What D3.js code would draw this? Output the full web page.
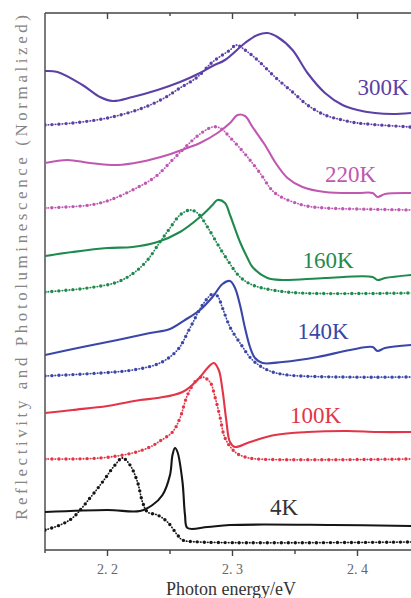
<!DOCTYPE html>
<html><head><meta charset="utf-8">
<script src="https://cdn.jsdelivr.net/npm/d3@7"></script>
<style>html,body{margin:0;padding:0;background:#fff;}svg{display:block;}</style>
</head><body>
<svg id="c" width="411" height="598"></svg>
<script>
// Photon energy (eV) vs normalized intensity (offset per temperature)
const temps = ["300K","220K","160K","140K","100K","4K"];
const colors = ["#5d40a6","#c058b2","#1f8a4e","#3a46a8","#e23648","#151515"];

const refl300 = [[2.150,4.79],[2.160,4.78],[2.180,4.65],[2.194,4.53],[2.204,4.49],[2.220,4.53],[2.240,4.60],[2.258,4.68],[2.274,4.77],[2.284,4.84],[2.294,4.90],[2.310,5.07],[2.320,5.15],[2.328,5.17],[2.336,5.13],[2.348,5.00],[2.360,4.77],[2.374,4.57],[2.388,4.45],[2.400,4.40],[2.414,4.37],[2.428,4.36],[2.443,4.37]];
const pl300 = [[2.150,4.25],[2.172,4.27],[2.200,4.32],[2.226,4.41],[2.244,4.51],[2.258,4.62],[2.272,4.73],[2.284,4.88],[2.298,5.00],[2.303,5.05],[2.310,5.00],[2.320,4.90],[2.334,4.73],[2.348,4.58],[2.360,4.45],[2.374,4.35],[2.388,4.30],[2.400,4.27],[2.443,4.23]];

const refl220 = [[2.150,3.87],[2.168,3.90],[2.186,3.87],[2.208,3.85],[2.226,3.88],[2.248,3.95],[2.266,4.03],[2.274,4.07],[2.288,4.17],[2.298,4.27],[2.304,4.35],[2.310,4.34],[2.316,4.23],[2.326,4.05],[2.334,3.88],[2.344,3.72],[2.356,3.63],[2.374,3.58],[2.400,3.57],[2.412,3.57],[2.416,3.53],[2.422,3.56],[2.443,3.57]];
const pl220 = [[2.150,3.42],[2.186,3.45],[2.202,3.50],[2.220,3.60],[2.238,3.73],[2.252,3.90],[2.264,4.05],[2.274,4.16],[2.284,4.23],[2.290,4.22],[2.300,4.10],[2.312,3.93],[2.322,3.77],[2.334,3.57],[2.356,3.45],[2.374,3.42],[2.400,3.41],[2.443,3.40]];

const refl160 = [[2.150,2.94],[2.172,2.98],[2.200,3.02],[2.220,3.03],[2.240,3.08],[2.258,3.18],[2.274,3.33],[2.284,3.45],[2.288,3.50],[2.294,3.47],[2.298,3.35],[2.306,3.08],[2.312,2.92],[2.316,2.83],[2.328,2.72],[2.340,2.70],[2.374,2.72],[2.412,2.73],[2.416,2.70],[2.422,2.72],[2.443,2.75]];
const pl160 = [[2.150,2.58],[2.184,2.62],[2.208,2.68],[2.222,2.78],[2.232,2.90],[2.242,3.08],[2.250,3.22],[2.258,3.35],[2.266,3.40],[2.272,3.37],[2.280,3.23],[2.288,3.06],[2.296,2.90],[2.306,2.73],[2.316,2.65],[2.332,2.60],[2.354,2.57],[2.443,2.57]];

const refl140 = [[2.150,1.95],[2.180,2.03],[2.208,2.10],[2.234,2.17],[2.250,2.21],[2.262,2.30],[2.274,2.40],[2.284,2.53],[2.292,2.66],[2.298,2.69],[2.302,2.62],[2.306,2.45],[2.310,2.22],[2.314,2.03],[2.318,1.92],[2.324,1.87],[2.340,1.88],[2.368,1.93],[2.394,2.00],[2.412,2.03],[2.416,1.99],[2.422,2.02],[2.443,2.05]];
const pl140 = [[2.150,1.74],[2.194,1.77],[2.220,1.80],[2.242,1.87],[2.256,2.00],[2.266,2.22],[2.276,2.45],[2.284,2.56],[2.288,2.54],[2.292,2.42],[2.298,2.23],[2.306,2.07],[2.316,1.90],[2.328,1.80],[2.344,1.75],[2.443,1.73]];

const refl100 = [[2.150,1.37],[2.172,1.40],[2.200,1.44],[2.226,1.50],[2.240,1.52],[2.260,1.58],[2.272,1.70],[2.280,1.82],[2.285,1.87],[2.289,1.80],[2.292,1.60],[2.295,1.30],[2.298,1.08],[2.302,1.03],[2.314,1.08],[2.334,1.15],[2.360,1.18],[2.392,1.19],[2.416,1.18],[2.443,1.18]];
const pl100 = [[2.150,0.91],[2.194,0.92],[2.220,0.97],[2.234,1.03],[2.242,1.09],[2.252,1.18],[2.258,1.32],[2.264,1.55],[2.272,1.71],[2.276,1.73],[2.282,1.68],[2.286,1.53],[2.290,1.33],[2.294,1.12],[2.302,0.98],[2.310,0.93],[2.320,0.91],[2.443,0.91]];

const refl4 = [[2.150,0.38],[2.200,0.40],[2.226,0.39],[2.236,0.45],[2.244,0.55],[2.250,0.75],[2.252,0.95],[2.254,1.02],[2.256,0.98],[2.260,0.68],[2.262,0.35],[2.264,0.22],[2.280,0.23],[2.298,0.25],[2.380,0.25],[2.443,0.24]];
const pl4 = [[2.150,0.20],[2.162,0.25],[2.172,0.32],[2.186,0.52],[2.196,0.68],[2.206,0.85],[2.212,0.92],[2.218,0.85],[2.224,0.68],[2.228,0.48],[2.232,0.38],[2.240,0.35],[2.248,0.28],[2.256,0.15],[2.260,0.10],[2.274,0.08],[2.443,0.08]];

const reflSeries = [refl300, refl220, refl160, refl140, refl100, refl4];
const plSeries = [pl300, pl220, pl160, pl140, pl100, pl4];
const labelPos = [[2.4,4.55],[2.374,3.68],[2.356,2.82],[2.352,2.11],[2.346,1.27],[2.330,0.35]];

const xTickMajor = [2.2, 2.3, 2.4];
const xTickMinor = [2.25, 2.35];
const xTickLabels = ["2. 2", "2. 3", "2. 4"];

const svg = d3.select("#c");
const L = 45, T = 13, B = 550, R = 411;
const x = d3.scaleLinear().domain([2.15, 2.4428]).range([L, R]);
const y = d3.scaleLinear().domain([0, 5.37]).range([B, T]);

const line = d3.line().x(d => x(d[0])).y(d => y(d[1])).curve(d3.curveCatmullRom.alpha(0.5));

// axes
const axCol = "#444";
svg.append("line").attr("x1", L).attr("x2", R).attr("y1", T).attr("y2", T).attr("stroke", axCol).attr("stroke-width", 1.4);
svg.append("line").attr("x1", L).attr("x2", R).attr("y1", B).attr("y2", B).attr("stroke", axCol).attr("stroke-width", 1.4);
svg.append("line").attr("x1", L).attr("x2", L).attr("y1", T).attr("y2", B + 3).attr("stroke", axCol).attr("stroke-width", 1.4);

xTickMajor.forEach(v => {
  svg.append("line").attr("x1", x(v)).attr("x2", x(v)).attr("y1", B).attr("y2", B + 6).attr("stroke", axCol).attr("stroke-width", 1.4);
  svg.append("line").attr("x1", x(v)).attr("x2", x(v)).attr("y1", T).attr("y2", T + 6).attr("stroke", axCol).attr("stroke-width", 1.4);
});
xTickMinor.forEach(v => {
  svg.append("line").attr("x1", x(v)).attr("x2", x(v)).attr("y1", B).attr("y2", B + 4).attr("stroke", axCol).attr("stroke-width", 1.4);
  svg.append("line").attr("x1", x(v)).attr("x2", x(v)).attr("y1", T).attr("y2", T + 3).attr("stroke", axCol).attr("stroke-width", 1.4);
});
xTickMajor.forEach((v, i) => {
  svg.append("text").attr("x", x(v)).attr("y", 574).attr("text-anchor", "middle")
    .attr("font-family", "Liberation Serif, serif").attr("font-size", 14).attr("fill", "#666").text(xTickLabels[i]);
});
svg.append("text").attr("x", 231).attr("y", 595).attr("text-anchor", "middle")
  .attr("font-family", "Liberation Serif, serif").attr("font-size", 18).attr("fill", "#333").text("Photon energy/eV");

svg.append("text").attr("transform", "translate(27,520) rotate(-90)")
  .attr("font-family", "Liberation Serif, serif").attr("font-size", 17).attr("fill", "#858585")
  .attr("textLength", 505).attr("lengthAdjust", "spacing")
  .text("Reflectivity and Photoluminescence (Normalized)");

const clip = svg.append("clipPath").attr("id", "pc").append("rect").attr("x", L).attr("y", T).attr("width", R - L).attr("height", B - T);
const g = svg.append("g").attr("clip-path", "url(#pc)");

temps.forEach((t, i) => {
  const c = colors[i];
  // PL dotted
  g.append("path").attr("d", line(plSeries[i])).attr("fill", "none").attr("stroke", c).attr("stroke-opacity", 0.35).attr("stroke-width", 1);
  g.append("path").attr("d", line(plSeries[i])).attr("fill", "none").attr("stroke", c)
    .attr("stroke-width", 3.4).attr("stroke-linecap", "round").attr("stroke-dasharray", "0 7");
  g.append("path").attr("d", line(plSeries[i])).attr("fill", "none").attr("stroke", c)
    .attr("stroke-width", 1.8).attr("stroke-linecap", "round").attr("stroke-dasharray", "0 7").attr("stroke-dashoffset", 3.5);
  // reflectivity solid
  g.append("path").attr("d", line(reflSeries[i])).attr("fill", "none").attr("stroke", c).attr("stroke-width", 2.1);
  svg.append("text").attr("x", x(labelPos[i][0])).attr("y", y(labelPos[i][1]))
    .attr("font-family", "Liberation Serif, serif").attr("font-size", 23)
    .attr("fill", i === 5 ? "#333" : c).text(t);
});
</script>
</body></html>
